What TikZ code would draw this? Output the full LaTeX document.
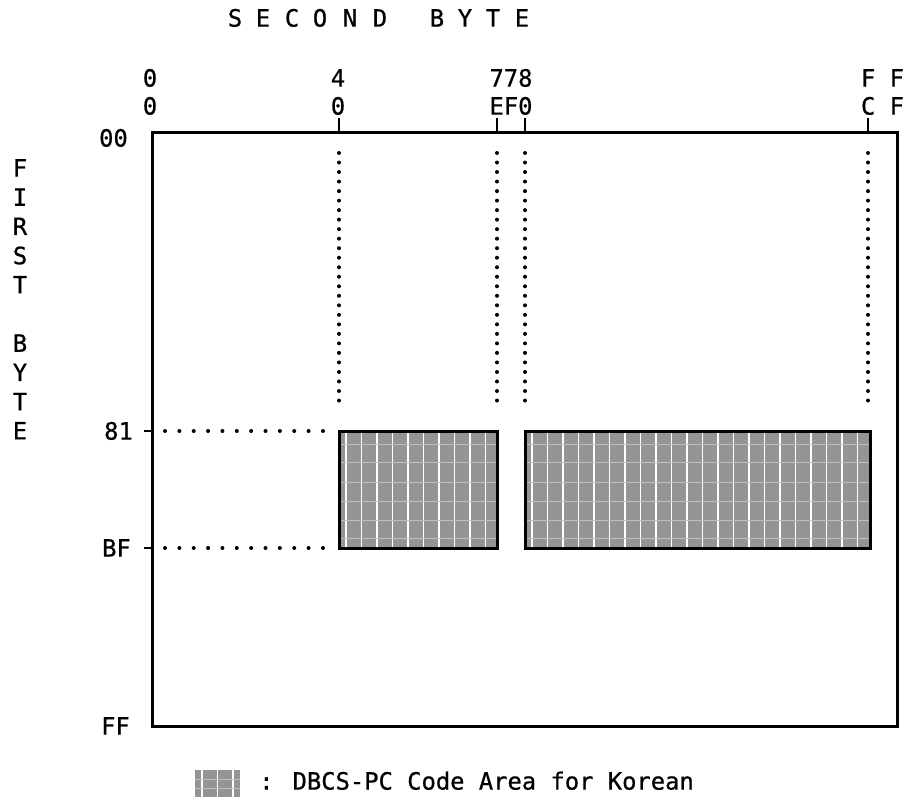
\documentclass[tikz,border=0pt]{standalone}
\usepackage{fontspec}
\newfontfamily\monofont{DejaVu Sans Mono}[FakeBold=0.7]
\begin{document}
\begin{tikzpicture}[x=1pt,y=-1pt,
  lbl/.style={font=\monofont\fontsize{23.8}{28}\selectfont, inner sep=0pt, text height=17.2pt, text depth=0pt},
  frame/.style={line width=3pt},
  tickmark/.style={line width=2pt},
  dotv/.style={line width=4pt, line cap=round, dash pattern=on 0pt off 9.52pt},
  doth/.style={line width=4pt, line cap=round, dash pattern=on 0pt off 14.36pt},
  areaborder/.style={line width=3pt, draw=black},
  areafill/.style={fill=black!42},
  vgrid/.style={white, line width=1.4pt},
  hgrid/.style={white!75!black, line width=0.6pt}]
\useasboundingbox (0,0) rectangle (914,805);
\fill[white] (0,0) rectangle (914,805);

% title
\foreach \ch/\x in {S/235,E/263,C/292,O/320,N/350,D/380,B/437,Y/465,T/493,E/522}
  \node[lbl] (t\x) at (\x,18) {\ch};

% first byte (vertical)
\foreach \ch/\i [count=\k] in {F/0,I/1,R/2,S/3,T/4,B/6,Y/7,T/8,E/9}
  \node[lbl] (f\k) at (20,{168+29.2*\i}) {\ch};

% corners
\coordinate (tl) at (152,133);
\coordinate (br) at (897,726);

% shaded areas
\foreach \xa/\xb/\nm in {339/497/A, 525/870/B}{
  \begin{scope}
    \clip (\xa,431) rectangle (\xb,548);
    \fill[areafill] (\xa,431) rectangle (\xb,548);
    \foreach \x in {0,15.5,...,360} \draw[vgrid] ({\xa+7+\x},431) -- ({\xa+7+\x},548);
    \foreach \y in {444,462,482,501,520,538} \draw[hgrid] (\xa,\y) -- (\xb,\y);
  \end{scope}
  \draw[areaborder] (\xa,431) rectangle (\xb,548);
}
\coordinate (areaA) at (418,489);
\coordinate (areaB) at (697,489);

% main frame
\draw[frame] (tl) rectangle (br);

% top ticks and labels
\foreach \x in {339,497,525,868}
  \draw[tickmark] (\x,118) -- (\x,133);
\node[lbl] (c00a) at (150,78) {0};
\node[lbl] (c00b) at (150,106) {0};
\node[lbl] (c40a) at (338,78) {4};
\node[lbl] (c40b) at (338,106) {0};
\node[lbl] (c78a) at (511,78) {778};
\node[lbl] (c78b) at (511,106) {EF0};
\node[lbl] (cffa) at (882.5,78) {F F};
\node[lbl] (cffb) at (882.5,106) {C F};

% left ticks and labels
\draw[tickmark] (144,431) -- (152,431);
\draw[tickmark] (144,548) -- (152,548);
\node[lbl, anchor=east] (r00) at (128,138) {00};
\node[lbl, anchor=east] (r81) at (133,431) {81};
\node[lbl, anchor=east] (rBF) at (131,548) {BF};
\node[lbl, anchor=east] (rFF) at (130,726) {FF};

% dotted guide lines
\foreach \x in {339,497,525,868}
  \draw[dotv] (\x,153) -- (\x,410);
\draw[doth] (165,431) -- (323,431);
\draw[doth] (165,548) -- (323,548);

% legend
\begin{scope}
  \clip (195,770) rectangle (240,797);
  \fill[areafill] (195,770) rectangle (240,797);
  \foreach \x in {202,217.5,233} \draw[vgrid] (\x,770) -- (\x,797);
  \foreach \y in {779,788} \draw[hgrid] (195,\y) -- (240,\y);
\end{scope}
\coordinate (swatch) at (217.5,783.5);
\node[lbl, anchor=west] (legend) at (259,781) {: DBCS-PC Code Area for Korean};
\end{tikzpicture}
\end{document}
